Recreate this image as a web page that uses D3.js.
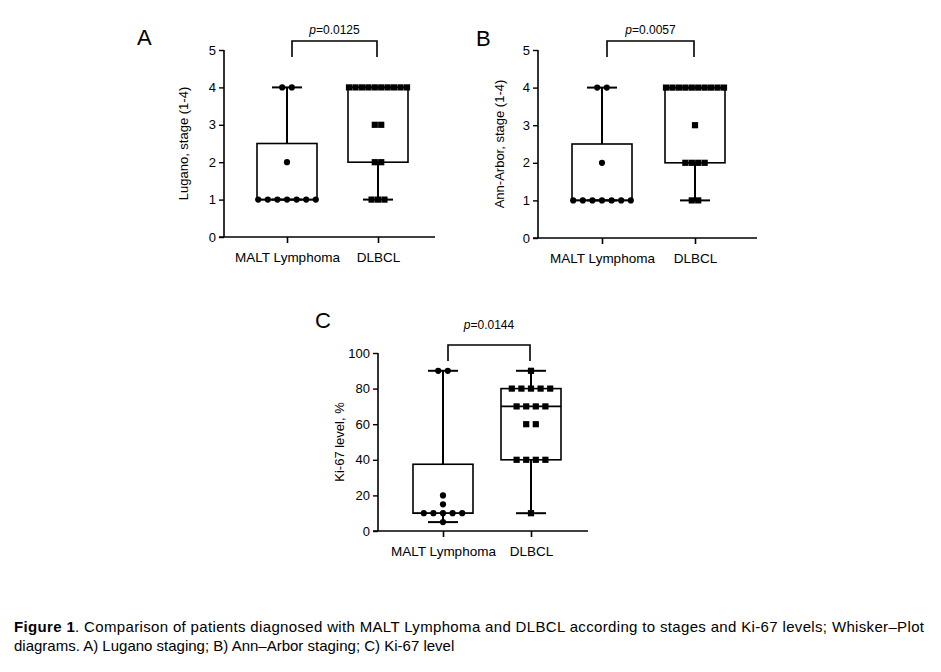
<!DOCTYPE html>
<html>

<head>
    <meta charset="utf-8">
    <script src="https://cdnjs.cloudflare.com/ajax/libs/d3/7.8.5/d3.min.js"></script>
    <style>
        body {
            margin: 0;
            background: #fff;
        }

        svg text {
            font-family: 'Liberation Sans', Arial, sans-serif;
            fill: #000;
        }
    </style>
</head>

<body>
    <script>
        // groups on the x axis
        const groups = ["MALT Lymphoma", "DLBCL"]

        // A) Lugano stage per patient
        const luganoMalt = [1, 1, 1, 1, 1, 1, 1, 2, 4, 4]
        const luganoDlbcl = [1, 1, 1, 2, 2, 3, 3, 4, 4, 4, 4, 4, 4, 4, 4, 4, 4]

        // B) Ann-Arbor stage per patient
        const annArborMalt = [1, 1, 1, 1, 1, 1, 1, 2, 4, 4]
        const annArborDlbcl = [1, 1, 2, 2, 2, 2, 3, 4, 4, 4, 4, 4, 4, 4, 4, 4, 4]

        // C) Ki-67 level, %
        const ki67Malt = [5, 10, 10, 10, 10, 10, 15, 20, 90, 90]
        const ki67Dlbcl = [10, 40, 40, 40, 40, 60, 60, 70, 70, 70, 70, 80, 80, 80, 80, 80, 90]

        const stageTicks = [0, 1, 2, 3, 4, 5]
        const ki67Ticks = [0, 20, 40, 60, 80, 100]
        const pValues = ["0.0125", "0.0057", "0.0144"]
        const panelLetters = ["A", "B", "C"]
        const yLabels = ["Lugano, stage (1-4)", "Ann-Arbor, stage (1-4)", "Ki-67 level, %"]

        const w = 941
        const h = 672

        const svg = d3.select("body")
            .append("svg")
            .attr("width", w)
            .attr("height", h)

        // quartiles the way Prism does them, position p*(n+1)
        function quart(sorted, p) {
            let pos = p * (sorted.length + 1) - 1
            if (pos <= 0) return sorted[0]
            if (pos >= sorted.length - 1) return sorted[sorted.length - 1]
            let lo = Math.floor(pos)
            return sorted[lo] + (pos - lo) * (sorted[lo + 1] - sorted[lo])
        }

        // one panel: layout numbers only, values come from the arrays above
        const panels = [
            { vals: [luganoMalt, luganoDlbcl], ticks: stageTicks, ax: 224, xEnd: 435, cats: [287, 378], yTop: 50, y0: 237, letter: [137, 45], lab: 188, bracket: 41, pY: 34 },
            { vals: [annArborMalt, annArborDlbcl], ticks: stageTicks, ax: 538, xEnd: 757, cats: [602, 695], yTop: 50, y0: 238, letter: [476, 46], lab: 504, bracket: 41, pY: 34 },
            { vals: [ki67Malt, ki67Dlbcl], ticks: ki67Ticks, ax: 378, xEnd: 588, cats: [443, 531], yTop: 353, y0: 531, letter: [315, 328], lab: 344, bracket: 345, pY: 329 }
        ]

        panels.forEach((p, pi) => {
            const g = svg.append("g")

            const y = d3.scaleLinear()
                .domain([p.ticks[0], p.ticks[p.ticks.length - 1]])
                .range([p.y0, p.yTop])

            const x = d3.scalePoint()
                .domain(groups)
                .range(p.cats)

            // y axis
            const yAxis = g.append("g")
                .attr("transform", `translate(${p.ax},0)`)
                .call(d3.axisLeft(y).tickValues(p.ticks).tickFormat(d3.format("d"))
                    .tickSize(5).tickSizeOuter(0).tickPadding(3))
            yAxis.select(".domain").attr("stroke-width", 1.6).attr("d", `M0,${p.y0}V${p.yTop}`)
            yAxis.selectAll(".tick line").attr("stroke-width", 1.4)
            yAxis.selectAll(".tick text")
                .style("font-family", "'Liberation Sans', Arial, sans-serif")
                .style("font-size", "13px")
                .attr("fill", "#000")

            // x axis
            g.append("line")
                .attr("x1", p.ax - 5).attr("x2", p.xEnd)
                .attr("y1", p.y0).attr("y2", p.y0)
                .attr("stroke", "#000").attr("stroke-width", 1.6)
            const xAxis = g.append("g")
                .attr("transform", `translate(0,${p.y0})`)
                .call(d3.axisBottom(x).tickSize(6).tickPadding(9))
            xAxis.select(".domain").remove()
            xAxis.selectAll(".tick line").attr("stroke-width", 1.6)
            xAxis.selectAll(".tick text")
                .style("font-family", "'Liberation Sans', Arial, sans-serif")
                .style("font-size", "13.5px")
                .attr("fill", "#000")

            // y label
            g.append("text")
                .attr("transform", `translate(${p.lab},${(p.y0 + p.yTop) / 2}) rotate(-90)`)
                .attr("text-anchor", "middle")
                .style("font-size", "13px")
                .text(yLabels[pi])

            // panel letter
            g.append("text")
                .attr("x", p.letter[0]).attr("y", p.letter[1])
                .style("font-size", "22px")
                .text(panelLetters[pi])

            // boxes, whiskers, points
            p.vals.forEach((vals, gi) => {
                const cx = x(groups[gi])
                const s = vals.slice().sort((a, b) => a - b)
                const q1 = quart(s, 0.25), med = quart(s, 0.5), q3 = quart(s, 0.75)
                const lo = s[0], hi = s[s.length - 1]
                const bw = 60

                g.append("line")
                    .attr("x1", cx).attr("x2", cx)
                    .attr("y1", y(hi)).attr("y2", y(q3))
                    .attr("stroke", "#000").attr("stroke-width", 2)
                g.append("line")
                    .attr("x1", cx).attr("x2", cx)
                    .attr("y1", y(q1)).attr("y2", y(lo))
                    .attr("stroke", "#000").attr("stroke-width", 2)
                g.selectAll(null)
                    .data([lo, hi])
                    .enter()
                    .append("line")
                    .attr("x1", cx - 15).attr("x2", cx + 15)
                    .attr("y1", d => y(d)).attr("y2", d => y(d))
                    .attr("stroke", "#000").attr("stroke-width", 2)
                g.append("rect")
                    .attr("x", cx - bw / 2).attr("width", bw)
                    .attr("y", y(q3)).attr("height", y(q1) - y(q3))
                    .attr("fill", "none").attr("stroke", "#000").attr("stroke-width", 1.6)
                g.append("line")
                    .attr("x1", cx - bw / 2).attr("x2", cx + bw / 2)
                    .attr("y1", y(med)).attr("y2", y(med))
                    .attr("stroke", "#000").attr("stroke-width", 1.6)

                // spread equal values in a row, like a scatter dot plot
                const rows = d3.groups(s, d => d)
                const maxRow = d3.max(rows, r => r[1].length)
                const step = maxRow > 1 ? Math.min(9.6, 58 / (maxRow - 1)) : 0
                const pts = []
                rows.forEach(r => {
                    const k = r[1].length
                    r[1].forEach((v, i) => pts.push({ v: v, off: (i - (k - 1) / 2) * step }))
                })

                if (gi == 0) {
                    g.selectAll(null)
                        .data(pts)
                        .enter()
                        .append("circle")
                        .attr("cx", d => cx + d.off)
                        .attr("cy", d => y(d.v))
                        .attr("r", 3.1)
                        .attr("fill", "#000")
                } else {
                    g.selectAll(null)
                        .data(pts)
                        .enter()
                        .append("rect")
                        .attr("x", d => cx + d.off - 3.1)
                        .attr("y", d => y(d.v) - 3.1)
                        .attr("width", 6.2)
                        .attr("height", 6.2)
                        .attr("fill", "#000")
                }
            })

            // significance bracket
            const bx1 = x(groups[0]) + 5, bx2 = x(groups[1]) - 1
            g.append("path")
                .attr("d", `M${bx1},${p.bracket + 16}V${p.bracket}H${bx2}V${p.bracket + 16}`)
                .attr("fill", "none").attr("stroke", "#000").attr("stroke-width", 1.6)
            const pt = g.append("text")
                .attr("x", (bx1 + bx2) / 2).attr("y", p.pY)
                .attr("text-anchor", "middle")
                .style("font-size", "12px")
            pt.append("tspan").style("font-style", "italic").text("p")
            pt.append("tspan").text("=" + pValues[pi])
        })

        // caption
        const cap1 = svg.append("text")
            .attr("x", 14).attr("y", 632)
            .attr("textLength", 910)
            .attr("lengthAdjust", "spacing")
            .style("font-size", "15px")
        cap1.append("tspan").style("font-weight", "bold").text("Figure 1")
        cap1.append("tspan").text(". Comparison of patients diagnosed with MALT Lymphoma and DLBCL according to stages and Ki-67 levels; Whisker\u2013Plot")

        svg.append("text")
            .attr("x", 14).attr("y", 651)
            .style("font-size", "15px")
            .text("diagrams. A) Lugano staging; B) Ann\u2013Arbor staging; C) Ki-67 level")
    </script>
</body>

</html>
